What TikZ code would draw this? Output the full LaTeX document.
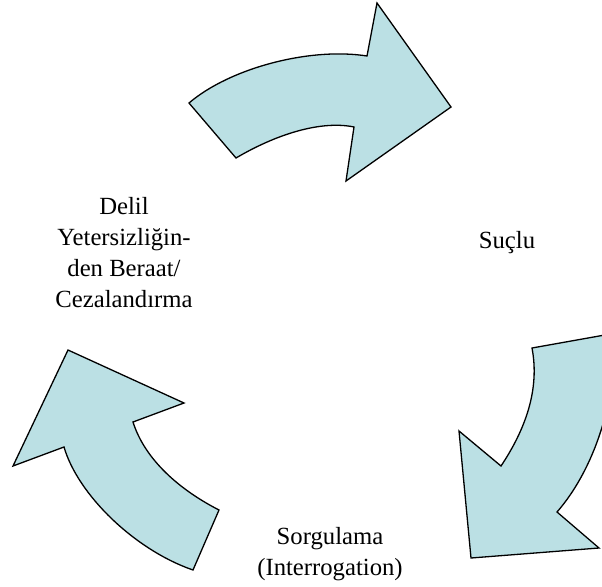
\documentclass[tikz,border=0pt]{standalone}
\usepackage{fontspec}
\setmainfont{Liberation Serif}
\definecolor{arrowfill}{RGB}{187,224,228}
\tikzset{
  bigarrow/.style={fill=arrowfill, draw=black, line width=1.3pt, line join=miter},
  label/.style={align=center, font=\fontsize{24.7pt}{31pt}\selectfont, inner sep=0pt}
}
\begin{document}
\begin{tikzpicture}[x=1pt, y=-1pt]
\useasboundingbox (0,0) rectangle (602,586);
\begin{scope}
\clip (0,0) rectangle (602,586);
% top arrow
\draw[bigarrow] (189,103) -- (236,158)
  .. controls (275,135) and (320,120) .. (354,127)
  -- (346,181) -- (451,107) -- (377,3) -- (367,56)
  .. controls (310,47) and (230,68) .. cycle;
% right arrow
\draw[bigarrow] (532,348) -- (616,333)
  .. controls (615,420) and (585,480) .. (557,512)
  -- (599,548) -- (471,558) -- (459,431) -- (501,466)
  .. controls (525,430) and (540,390) .. cycle;
% left arrow
\draw[bigarrow] (193,570) -- (219,510)
  .. controls (180,490) and (145,460) .. (133,422)
  -- (184,403) -- (68,350) -- (13,466) -- (64,447)
  .. controls (78,495) and (135,550) .. cycle;
\end{scope}
\node[label, anchor=base] (delil) at (124,307) {Delil\\Yetersizliğin-\\den Beraat/\\Cezalandırma};
\node[label, anchor=base] (suclu) at (507,248) {Suçlu};
\node[label, anchor=base] (sorgu) at (330,575) {Sorgulama\\(Interrogation)};
\end{tikzpicture}
\end{document}
